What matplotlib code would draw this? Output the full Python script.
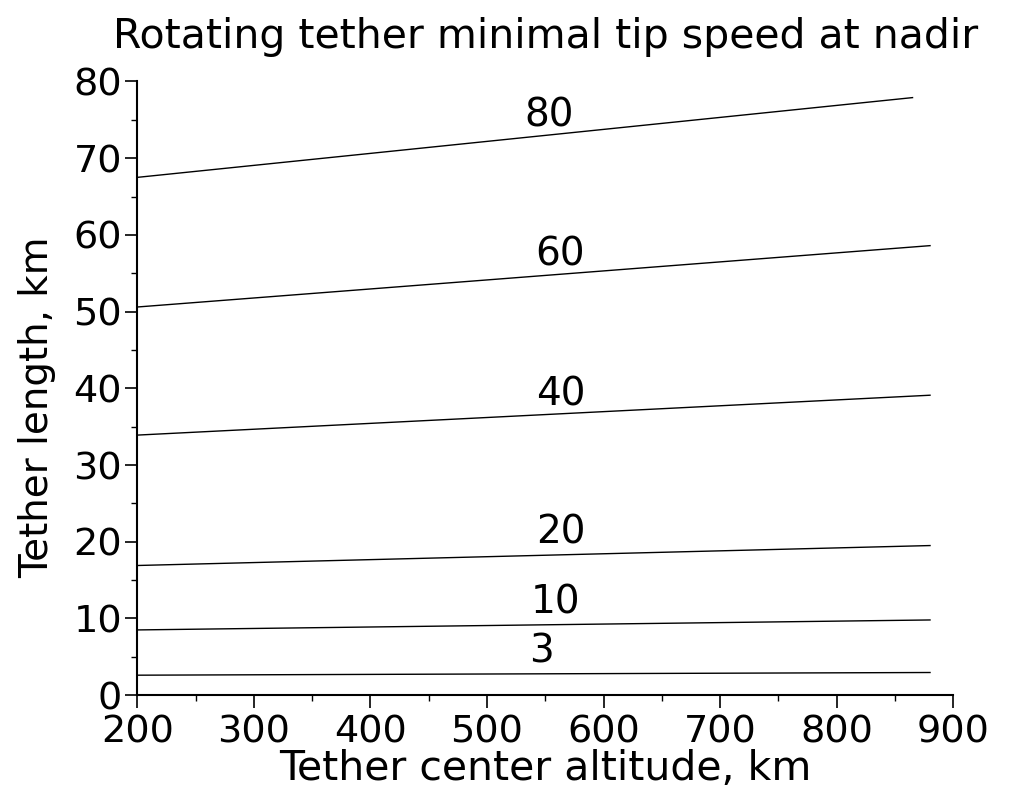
import numpy as np
import matplotlib
matplotlib.use("Agg")
import matplotlib.pyplot as plt
from matplotlib.ticker import MultipleLocator

# tip speed levels (m/s) and the line end points
speeds = [3, 10, 20, 40, 60, 80]
alt_start = [200, 200, 200, 200, 200, 200]
alt_end = [880, 880, 880, 880, 880, 865]
len_start = [2.6, 8.5, 16.9, 33.9, 50.6, 67.5]
len_end = [2.95, 9.8, 19.5, 39.1, 58.6, 77.9]

# where the level labels sit
label_x = [547, 559, 563, 563, 563, 553]
label_y = [5.7, 12.1, 21.2, 39.2, 57.5, 75.6]

fig = plt.figure(figsize=(10.24, 7.99), dpi=100)
ax = fig.add_axes([0.134, 0.130, 0.797, 0.768])

for i in range(len(speeds)):
    ax.plot([alt_start[i], alt_end[i]], [len_start[i], len_end[i]],
            color="black", lw=1.0)
    ax.text(label_x[i], label_y[i], str(speeds[i]), fontsize=28,
            ha="center", va="center")

ax.set_xlim(200, 900)
ax.set_ylim(0, 80)
ax.xaxis.set_major_locator(MultipleLocator(100))
ax.xaxis.set_minor_locator(MultipleLocator(50))
ax.yaxis.set_major_locator(MultipleLocator(10))
ax.yaxis.set_minor_locator(MultipleLocator(5))

for side in ["top", "right"]:
    ax.spines[side].set_visible(False)
ax.spines["left"].set_linewidth(1.5)
ax.spines["bottom"].set_linewidth(1.5)
ax.tick_params(which="major", length=9, width=1.2, labelsize=27.5, pad=2)
ax.tick_params(which="minor", length=4, width=1.0)
ax.tick_params(axis="x", which="major", pad=5)

ax.set_xlabel("Tether center altitude, km", fontsize=29.5, labelpad=-1)
ax.set_ylabel("Tether length, km", fontsize=28)
ax.yaxis.set_label_coords(-0.099, 0.469)
ax.set_title("Rotating tether minimal tip speed at nadir", fontsize=29.5, pad=24)

fig.savefig("out.png", dpi=100)
